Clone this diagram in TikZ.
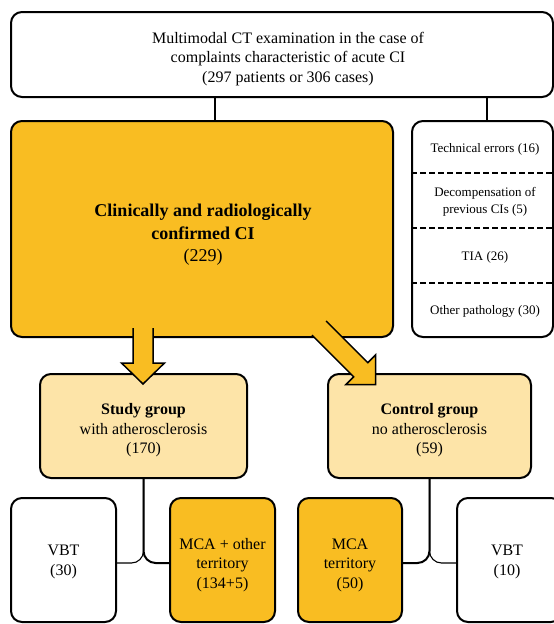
\documentclass[tikz,border=0pt]{standalone}
\usepackage{fontspec}
\setmainfont{Liberation Serif}
\definecolor{ora}{RGB}{249,189,34}
\definecolor{lightora}{RGB}{253,228,168}
\begin{document}
\begin{tikzpicture}[x=1pt,y=-1pt,
  box/.style={draw=black, line width=2pt, rounded corners=11pt, inner sep=0pt},
  txt/.style={font=\fontsize{16}{19.5}\selectfont, align=center, inner sep=0pt},
  smalltxt/.style={font=\fontsize{13}{16.5}\selectfont, align=center, inner sep=0pt},
  bigtxt/.style={font=\fontsize{18}{22.5}\selectfont, align=center, inner sep=0pt},
  thinconn/.style={draw=black, line width=1.1pt, rounded corners=12pt},
  thickconn/.style={draw=black, line width=2pt, rounded corners=12pt},
  dashline/.style={draw=black, line width=1.3pt, dash pattern=on 5.5pt off 3.5pt},
  blockarrow/.style={fill=ora, draw=black, line width=1.5pt, line join=miter}
]
\clip (0,0) rectangle (554,624);
\useasboundingbox (0,0) rectangle (554,624);

% boxes
\node[box, fill=white, minimum width=542pt, minimum height=85pt] (top) at (282,54.5) {};
\node[box, fill=ora, minimum width=382pt, minimum height=216pt] (big) at (202,229) {};
\node[box, fill=white, minimum width=141pt, minimum height=216pt] (side) at (482.5,229) {};
\node[box, fill=lightora, minimum width=207pt, minimum height=104pt] (study) at (143.5,426) {};
\node[box, fill=lightora, minimum width=203pt, minimum height=104pt] (control) at (429.5,426) {};
\node[box, fill=white, minimum width=105pt, minimum height=124pt] (vbt1) at (63.5,560) {};
\node[box, fill=ora, minimum width=105pt, minimum height=124pt] (mca1) at (222.5,560) {};
\node[box, fill=ora, minimum width=104pt, minimum height=124pt] (mca2) at (350,560) {};
\node[box, fill=white, minimum width=105pt, minimum height=124pt] (vbt2) at (509.5,560) {};

% box texts
\node[txt] (toptext) at (288,59) {Multimodal CT examination in the case of\\complaints characteristic of acute CI\\(297 patients or 306 cases)};
\node[bigtxt] (bigtext) at (203,235) {\bfseries Clinically and radiologically\\\bfseries confirmed CI\\(229)};
\node[txt] (studytext) at (143.5,430.5) {\textbf{Study group}\\with atherosclerosis\\(170)};
\node[txt] (controltext) at (429.5,430.5) {\textbf{Control group}\\no atherosclerosis\\(59)};
\node[txt] (vbt1text) at (63.5,562) {VBT\\(30)};
\node[txt] (mca1text) at (222.5,565) {MCA + other\\territory\\(134+5)};
\node[txt] (mca2text) at (350,565) {MCA\\territory\\(50)};
\node[txt] (vbt2text) at (507,562) {VBT\\(10)};

% side box contents
\coordinate (d1) at (0,173);
\coordinate (d2) at (0,228);
\coordinate (d3) at (0,283);
\draw[dashline] (side.west |- d1) -- (side.east |- d1);
\draw[dashline] (side.west |- d2) -- (side.east |- d2);
\draw[dashline] (side.west |- d3) -- (side.east |- d3);
\node[smalltxt] (s1) at (485,149) {Technical errors (16)};
\node[smalltxt] (s2) at (485,202) {Decompensation of\\previous CIs (5)};
\node[smalltxt] (s3) at (485,257.5) {TIA (26)};
\node[smalltxt] (s4) at (485,311) {Other pathology (30)};

% top connectors
\coordinate (c1) at (215,0);
\coordinate (c2) at (487,0);
\draw[line width=2pt] (c1 |- top.south) -- (c1 |- big.north);
\draw[line width=1.1pt] (c2 |- top.south) -- (c2 |- side.north);

% bottom connectors
\coordinate (j1) at (143.5,563);
\coordinate (j2) at (429.5,563);
\draw[thinconn] (study.south) |- (j1 -| vbt1.east);
\draw[thickconn] (study.south) |- (j1 -| mca1.west);
\draw[thickconn] (control.south) |- (j2 -| mca2.east);
\draw[thinconn] (control.south) |- (j2 -| vbt2.west);

% block arrows
\coordinate (a1) at (143,328);
\coordinate (a2) at (319,328);
\begin{scope}[shift={(a1)}]
  \filldraw[blockarrow] (-10,0) -- (-10,35) -- (-21.5,35) -- (0,56) -- (21.5,35) -- (10,35) -- (10,0);
\end{scope}
\begin{scope}[shift={(a2)}, rotate=45]
  \filldraw[blockarrow] (-10,0) -- (-10,59) -- (-21,59) -- (0,80) -- (21,59) -- (10,59) -- (10,0);
\end{scope}
\end{tikzpicture}
\end{document}
